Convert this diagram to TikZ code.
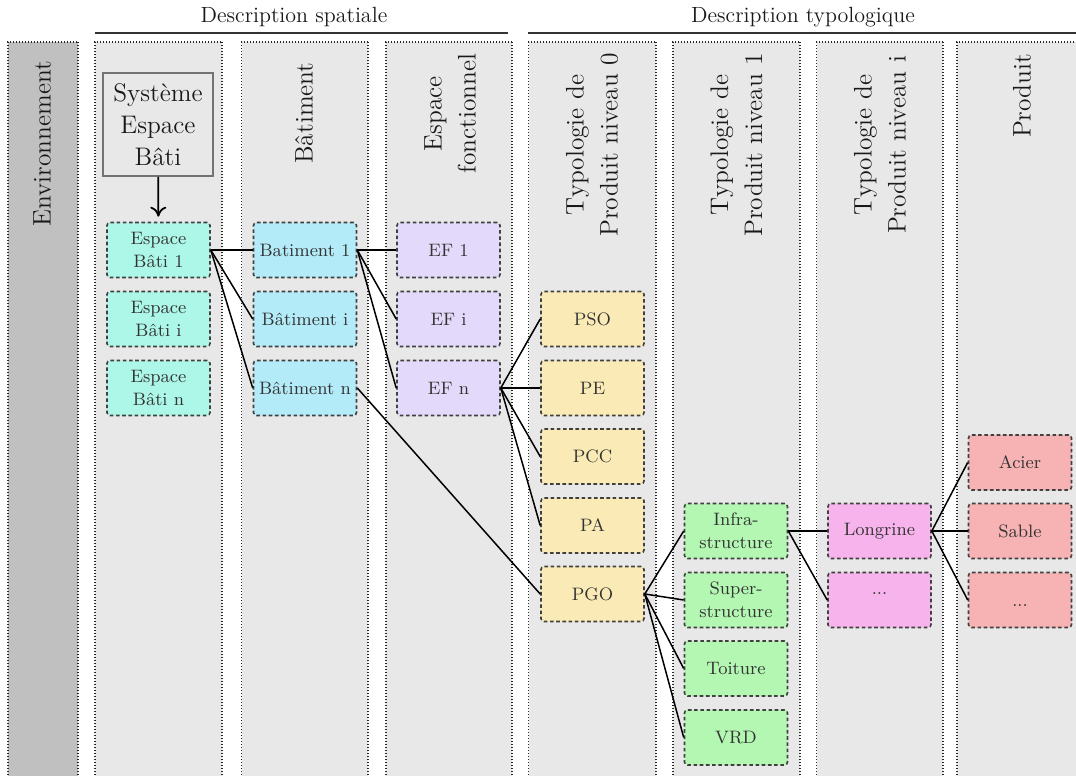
\documentclass[tikz,border=0pt]{standalone}
\usetikzlibrary{arrows.meta}
\definecolor{colbg}{HTML}{E8E8E8}
\definecolor{envbg}{HTML}{C0C0C0}
\definecolor{cEB}{HTML}{ADF7E8}
\definecolor{cB}{HTML}{B3EBF8}
\definecolor{cEF}{HTML}{E3D9FA}
\definecolor{cPz}{HTML}{FAEAB5}
\definecolor{cPo}{HTML}{B3F7B3}
\definecolor{cPi}{HTML}{F7B3EC}
\definecolor{cPr}{HTML}{F7B3B3}
\begin{document}
\begin{tikzpicture}[x=0.5pt,y=-0.5pt,
  colbox/.style={fill=colbg},
  colline/.style={draw=black!85, line width=0.6pt, dash pattern=on 0.5pt off 1pt},
  item/.style={draw=black!75, line width=0.8pt, dash pattern=on 1.8pt off 1.3pt, rounded corners=1.5pt,
    minimum width=51.5pt, minimum height=27.5pt, inner sep=1pt, align=center, text=black!80,
    font=\fontsize{9}{11.5}\selectfont},
  head/.style={rotate=90, align=center, font=\fontsize{12.7}{17}\selectfont, text=black!90},
  toptitle/.style={font=\fontsize{11}{13}\selectfont, text=black!90},
  rule/.style={line width=1pt, draw=black!80},
  link/.style={line width=0.75pt}
]
\clip (0,0) rectangle (1076,776);
% columns
\foreach \xa/\xb/\c in {8/78/envbg, 95/222/colbg, 241.5/368/colbg, 386/512/colbg, 528.5/656/colbg, 673/800/colbg, 816.5/943/colbg, 957/1084/colbg}{
  \fill[\c] (\xa,42) rectangle (\xb,790);
  \draw[colline] (\xa,790) -- (\xa,42) -- (\xb,42);
  \draw[colline] (\xb,42) -- (\xb,790);
}
% top titles
\node[toptitle] (dspat) at (294,17) {Description spatiale};
\draw[rule] (95,32.5) -- (508,32.5);
\node[toptitle] (dtypo) at (803,17) {Description typologique};
\draw[rule] (528,32.5) -- (1076,32.5);
% column headers
\node[head] (henv) at (42,143.5) {Environnement};
\node[head] (hbat) at (304,113) {Bâtiment};
\node[head] (hef) at (450,113.5) {Espace\\fonctionnel};
\node[head] (htpz) at (592,145) {Typologie de\\Produit niveau 0};
\node[head] (htpo) at (736.5,145) {Typologie de\\Produit niveau 1};
\node[head] (htpi) at (880,145) {Typologie de\\Produit niveau i};
\node[head] (hprod) at (1022,96) {Produit};
% system box
\node[draw=black!55, line width=0.8pt, minimum width=55pt, minimum height=51.5pt, align=center,
  inner sep=1pt, font=\fontsize{12.7}{16}\selectfont, text=black!90] (sys) at (158,124.5) {Système\\Espace\\Bâti};
% column 1
\node[item, fill=cEB] (eb1) at (158.5,250) {Espace\\Bâti 1};
\node[item, fill=cEB] (ebi) at (158.5,319) {Espace\\Bâti i};
\node[item, fill=cEB] (ebn) at (158.5,388) {Espace\\Bâti n};
% column 2
\node[item, fill=cB] (b1) at (305,250) {Batiment 1};
\node[item, fill=cB] (bi) at (305,319) {Bâtiment i};
\node[item, fill=cB] (bn) at (305,388) {Bâtiment n};
% column 3
\node[item, fill=cEF] (ef1) at (448.5,250) {EF 1};
\node[item, fill=cEF] (efi) at (448.5,319) {EF i};
\node[item, fill=cEF] (efn) at (448.5,388) {EF n};
% column 4
\node[item, fill=cPz] (pso) at (592.5,319) {PSO};
\node[item, fill=cPz] (pe) at (592.5,388) {PE};
\node[item, fill=cPz] (pcc) at (592.5,456.5) {PCC};
\node[item, fill=cPz] (pa) at (592.5,525.5) {PA};
\node[item, fill=cPz] (pgo) at (592.5,594) {PGO};
% column 5
\node[item, fill=cPo] (infra) at (736,531) {Infra-\\structure};
\node[item, fill=cPo] (super) at (736,600) {Super-\\structure};
\node[item, fill=cPo] (toit) at (736,668.5) {Toiture};
\node[item, fill=cPo] (vrd) at (736,737.5) {VRD};
% column 6
\node[item, fill=cPi] (long) at (879.5,531) {Longrine};
\node[item, fill=cPi, text height=0pt, text depth=6pt] (pidots) at (879.5,600) {...};
% column 7
\node[item, fill=cPr] (acier) at (1020,462.5) {Acier};
\node[item, fill=cPr] (sable) at (1020,531) {Sable};
\node[item, fill=cPr, text height=6pt, text depth=0pt] (prdots) at (1020,600) {...};
% connectors
\draw[-{To[length=5pt,width=8pt]}, line width=0.9pt, shorten >=2.5pt] (sys) -- (eb1);
\foreach \t in {b1,bi,bn} \draw[link] (eb1.east) -- (\t.west);
\foreach \t in {ef1,efi,efn} \draw[link] (b1.east) -- (\t.west);
\foreach \t in {pso,pe,pcc,pa} \draw[link] (efn.east) -- (\t.west);
\draw[link] (bn.east) -- (pgo.west);
\foreach \t in {infra,super,toit,vrd} \draw[link] (pgo.east) -- (\t.west);
\foreach \t in {long,pidots} \draw[link] (infra.east) -- (\t.west);
\foreach \t in {acier,sable,prdots} \draw[link] (long.east) -- (\t.west);
\end{tikzpicture}
\end{document}
